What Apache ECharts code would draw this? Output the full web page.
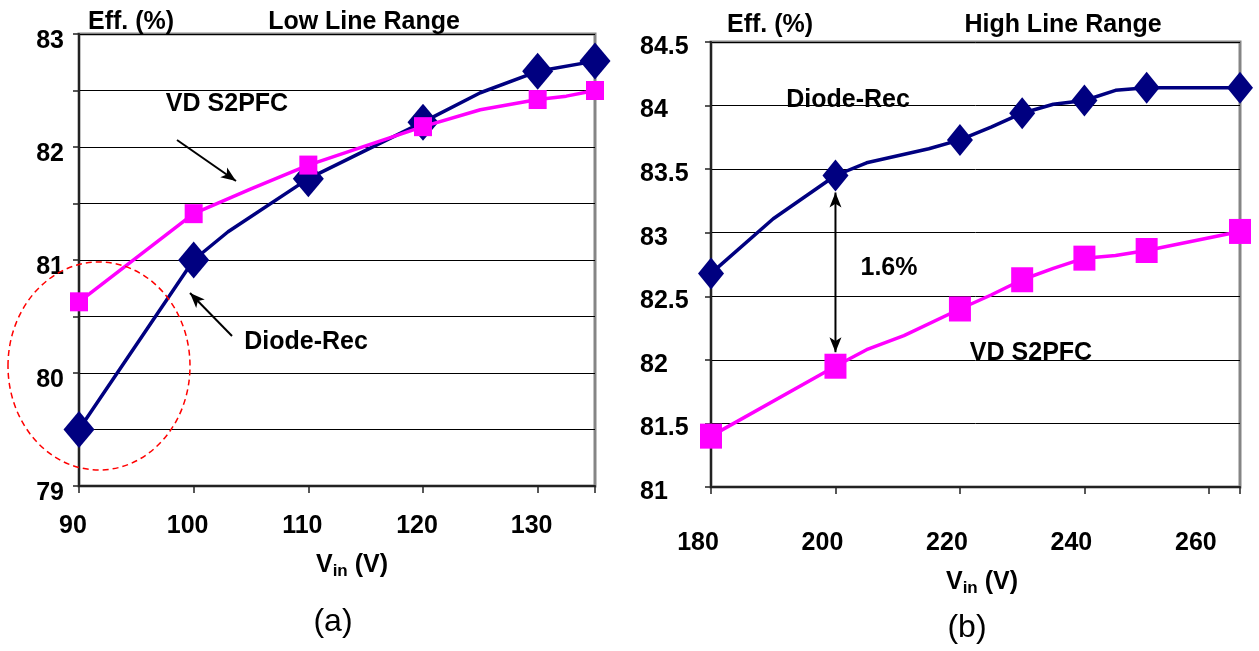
<!DOCTYPE html>
<html>
<head>
<meta charset="utf-8">
<script src="https://cdn.jsdelivr.net/npm/echarts@6/dist/echarts.min.js"></script>
<style>
  html, body { margin: 0; padding: 0; background: #fff; }
  #chart { width: 1259px; height: 651px; }
</style>
</head>
<body>
<div id="chart"></div>
<script>
// Low line range, 90–135 V input
const lowDiodeVin = [90, 100, 103, 110, 120, 125, 130, 135];
const lowDiodeEff = [79.5, 81.0, 81.25, 81.72, 82.22, 82.48, 82.67, 82.76];
const lowS2pfcVin = [90, 100, 105, 110, 120, 125, 130, 132.5, 135];
const lowS2pfcEff = [80.63, 81.41, 81.63, 81.84, 82.18, 82.33, 82.42, 82.45, 82.5];
const lowMarkedVin = [90, 100, 110, 120, 130, 135];

// High line range, 180–265 V input
const highDiodeVin = [180, 190, 200, 205, 215, 220, 225, 230, 235, 240, 245, 250, 265];
const highDiodeEff = [82.68, 83.11, 83.45, 83.55, 83.66, 83.73, 83.83, 83.94, 84.01, 84.04, 84.12, 84.14, 84.14];
const highS2pfcVin = [180, 200, 205, 211, 220, 225, 230, 235, 240, 245, 250, 265];
const highS2pfcEff = [81.4, 81.95, 82.08, 82.19, 82.4, 82.51, 82.63, 82.72, 82.8, 82.82, 82.86, 83.01];
const highMarkedVin = [180, 200, 220, 230, 240, 250, 265];

// Axis ranges
const lowVinRange = [90, 135];
const lowEffRange = [79, 83];
const highVinRange = [180, 265];
const highEffRange = [81, 84.5];

const NAVY = '#000080';
const PINK = '#ff00ff';
const FONT = '"Liberation Sans", Arial, sans-serif';
const BOLD = 'bold 25px ' + FONT;

function points(vin, eff, marked, symbol) {
  return vin.map((v, i) => ({
    value: [v, eff[i]],
    symbol: marked.includes(v) ? symbol : 'none'
  }));
}

function xAxis(gi, range, step, labelShift, margin) {
  return {
    type: 'value', gridIndex: gi, min: range[0], max: range[1], interval: step,
    axisLine: { show: true, lineStyle: { color: '#222', width: 2 } },
    axisTick: { show: true, length: 7, lineStyle: { color: '#222', width: 1.5 } },
    splitLine: { show: false },
    axisLabel: {
      margin: margin, fontFamily: FONT, fontWeight: 'bold', fontSize: 25, color: '#000',
      padding: [0, labelShift, 0, 0],
      formatter: v => (v % step === 0 ? String(v) : '')
    }
  };
}

function yAxis(gi, range, labelOpts) {
  return {
    type: 'value', gridIndex: gi, min: range[0], max: range[1], interval: 0.5,
    axisLine: { show: true, lineStyle: { color: '#222', width: 2 } },
    axisTick: { show: true, length: 6, lineStyle: { color: '#222', width: 1.5 } },
    splitLine: { show: true, lineStyle: { color: '#000', width: 1 } },
    axisLabel: Object.assign({
      fontFamily: FONT, fontWeight: 'bold', fontSize: 25, color: '#000',
      verticalAlign: 'top'
    }, labelOpts)
  };
}

const chart = echarts.init(document.getElementById('chart'), null, { renderer: 'canvas' });

chart.setOption({
  animation: false,
  backgroundColor: '#fff',
  grid: [
    { left: 79, top: 34, width: 516, height: 452, show: true, borderColor: '#858585', borderWidth: 3, backgroundColor: 'transparent' },
    { left: 711, top: 42, width: 529, height: 445, show: true, borderColor: '#858585', borderWidth: 3, backgroundColor: 'transparent' }
  ],
  xAxis: [
    xAxis(0, lowVinRange, 10, 12, 28),
    xAxis(1, highVinRange, 20, 26, 44)
  ],
  yAxis: [
    yAxis(0, lowEffRange, {
      margin: 15, align: 'right', lineHeight: 14,
      formatter: v => (Number.isInteger(v) ? String(v) : '')
    }),
    yAxis(1, highEffRange, {
      margin: 71, align: 'left', lineHeight: 10
    })
  ],
  series: [
    {
      name: 'Diode-Rec', type: 'line', xAxisIndex: 0, yAxisIndex: 0,
      data: points(lowDiodeVin, lowDiodeEff, lowMarkedVin, 'diamond'),
      symbolSize: [31, 37], showAllSymbol: true,
      lineStyle: { color: NAVY, width: 3.5 }, itemStyle: { color: NAVY }, z: 3
    },
    {
      name: 'VD S2PFC', type: 'line', xAxisIndex: 0, yAxisIndex: 0,
      data: points(lowS2pfcVin, lowS2pfcEff, lowMarkedVin, 'rect'),
      symbolSize: [18, 19], showAllSymbol: true,
      lineStyle: { color: PINK, width: 3.5 }, itemStyle: { color: PINK }, z: 4
    },
    {
      name: 'Diode-Rec', type: 'line', xAxisIndex: 1, yAxisIndex: 1,
      data: points(highDiodeVin, highDiodeEff, highMarkedVin, 'diamond'),
      symbolSize: [26, 32], showAllSymbol: true,
      lineStyle: { color: NAVY, width: 3.5 }, itemStyle: { color: NAVY }, z: 3
    },
    {
      name: 'VD S2PFC', type: 'line', xAxisIndex: 1, yAxisIndex: 1,
      data: points(highS2pfcVin, highS2pfcEff, highMarkedVin, 'rect'),
      symbolSize: [22, 25], showAllSymbol: true,
      lineStyle: { color: PINK, width: 3.5 }, itemStyle: { color: PINK }, z: 4
    }
  ]
});

// Annotation helpers
function label(text, x, y, align, font) {
  return {
    type: 'text', z: 100,
    style: {
      text: text, x: x, y: y, fill: '#000', font: font || BOLD,
      align: align || 'center', verticalAlign: 'middle',
      textAlign: align || 'center', textVerticalAlign: 'middle'
    }
  };
}

function head(x1, y1, x2, y2, len, half) {
  const a = Math.atan2(y2 - y1, x2 - x1);
  const bx = x2 - len * Math.cos(a), by = y2 - len * Math.sin(a);
  const nx = -Math.sin(a) * half, ny = Math.cos(a) * half;
  return {
    type: 'polygon', z: 100,
    shape: { points: [[x2, y2], [bx + nx, by + ny], [bx + len * 0.25 * Math.cos(a), by + len * 0.25 * Math.sin(a)], [bx - nx, by - ny]] },
    style: { fill: '#000' }
  };
}

function arrow(x1, y1, x2, y2, both) {
  const els = [{
    type: 'line', z: 100,
    shape: { x1: x1, y1: y1, x2: x2, y2: y2 },
    style: { stroke: '#000', lineWidth: 2 }
  }, head(x1, y1, x2, y2, 15, 6)];
  if (both) els.push(head(x2, y2, x1, y1, 15, 6));
  return els;
}

function vinTitle(x, y) {
  return {
    type: 'text', z: 100,
    style: {
      x: x, y: y, align: 'center', verticalAlign: 'middle',
      textAlign: 'center', textVerticalAlign: 'middle',
      text: '{v|V}{s|in}{v| (V)}',
      rich: {
        v: { fontFamily: FONT, fontWeight: 'bold', fontSize: 25, fill: '#000' },
        s: { fontFamily: FONT, fontWeight: 'bold', fontSize: 17, fill: '#000', padding: [13, 0, 0, 0] }
      }
    }
  };
}

// Efficiency gap at 200 V, drawn between the two marks
const gapVin = 200;
const topPt = chart.convertToPixel({ gridIndex: 1 }, [gapVin, highDiodeEff[highDiodeVin.indexOf(gapVin)]]);
const botPt = chart.convertToPixel({ gridIndex: 1 }, [gapVin, highS2pfcEff[highS2pfcVin.indexOf(gapVin)]]);

const graphics = [
  label('Eff. (%)', 88, 22, 'left'),
  label('Low Line Range', 364, 22),
  label('Eff. (%)', 727, 25, 'left'),
  label('High Line Range', 1063, 25),
  label('VD S2PFC', 227, 104),
  label('Diode-Rec', 306, 342),
  label('Diode-Rec', 848, 100),
  label('1.6%', 889, 268),
  label('VD S2PFC', 1031, 353),
  vinTitle(352, 565),
  vinTitle(982, 582),
  label('(a)', 333, 622, 'center', '32px ' + FONT),
  label('(b)', 967, 628, 'center', '32px ' + FONT),
  {
    type: 'ellipse', z: 100,
    shape: { cx: 99, cy: 366, rx: 91, ry: 104 },
    style: { fill: null, stroke: '#ff0000', lineWidth: 1.5, lineDash: [6, 4] }
  }
]
  .concat(arrow(177, 140, 236, 181))
  .concat(arrow(232, 336, 190, 293))
  .concat(arrow(topPt[0], topPt[1] + 17, botPt[0], botPt[1] - 14, true));

chart.setOption({ graphic: graphics });
</script>
</body>
</html>
